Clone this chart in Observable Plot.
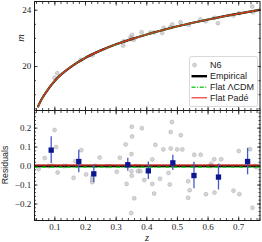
<!DOCTYPE html>
<html><head><meta charset="utf-8">
<script src="https://cdn.jsdelivr.net/npm/d3@7"></script>
<script src="https://cdn.jsdelivr.net/npm/@observablehq/plot@0.6"></script>
<style>
body{margin:0;background:#fff;}
#chart{position:relative;width:262px;height:242px;overflow:hidden;background:#fff;}
#chart svg{position:absolute;left:0;}
</style></head><body><div id="chart"></div>
<script>
// ---- data ----
const curveZ = [0.045,0.06,0.08,0.10,0.125,0.15,0.20,0.25,0.30,0.35,0.40,0.45,0.50,0.55,0.60,0.65,0.70,0.768];
const curveM = [17.17,17.80,18.45,19.00,19.52,19.95,20.63,21.15,21.58,21.95,22.28,22.58,22.86,23.11,23.34,23.56,23.76,24.03];

const n6Z = [0.099,0.108,0.185,0.222,0.323,0.325,0.347,0.352,0.358,0.350,0.383,0.412,0.423,0.450,0.455,0.477,0.483,0.510,0.537,0.575,0.592,0.621,0.632,0.682,0.701,0.744,0.747];
const n6M = [19.20,19.53,20.48,20.80,21.49,21.80,22.08,22.25,21.90,21.95,22.44,22.42,22.42,22.39,22.75,22.79,22.98,23.15,22.96,23.34,23.22,23.46,23.08,23.62,23.79,24.26,23.85];

const resZ = [0.047,0.067,0.099,0.104,0.109,0.161,0.167,0.186,0.202,0.222,0.222,0.222,0.246,0.302,0.312,0.331,0.334,0.351,0.352,0.350,0.350,0.351,0.359,0.349,0.371,0.379,0.384,0.392,0.418,0.418,0.424,0.428,0.443,0.454,0.471,0.475,0.478,0.482,0.478,0.499,0.511,0.516,0.535,0.535,0.540,0.555,0.576,0.593,0.610,0.620,0.621,0.643,0.683,0.700,0.702,0.737,0.745,0.758,
  0.080,0.091,0.129,0.138,0.175,0.232,0.268,0.278,0.336,0.363,0.374,0.554,0.603,0.611,0.635,0.752];
const resR = [-0.016,0.042,0.19,0.10,-0.034,-0.062,0.026,0.084,-0.044,-0.057,-0.073,-0.085,0.045,-0.03,0.044,0.114,-0.094,0.207,0.156,0.063,-0.027,-0.051,-0.17,-0.248,-0.027,-0.027,0.20,-0.074,0.035,-0.094,-0.145,0.112,-0.067,0.088,-0.036,-0.097,0.179,0.232,0.093,0.088,0.163,0.088,-0.08,-0.167,-0.127,0.06,0.06,-0.148,0.012,0.036,-0.14,0.036,-0.13,0.079,-0.148,0.089,-0.22,-0.006,
  0.0,0.002,-0.001,0.001,0.0,0.001,0.0,0.0,0.0,0.001,-0.001,0.0,0.0,0.001,0.0,0.0];

const binZ = [0.088,0.178,0.227,0.338,0.405,0.485,0.554,0.634,0.729];
const binR = [0.084,0.024,-0.041,0.007,-0.025,0.017,-0.050,-0.058,0.024];
const binErr = [0.070,0.059,0.047,0.034,0.046,0.040,0.070,0.068,0.070];

const resEmpirical = 0.0, resLCDM = -0.006, resPade = 0.005;

const xTicks = [0.1,0.2,0.3,0.4,0.5,0.6,0.7];
const xTickLabels = ["0.1","0.2","0.3","0.4","0.5","0.6","0.7"];
const mTicks = [20,24];
const mTickLabels = ["20","24"];
const rTicks = [-0.2,-0.1,0.0,0.1,0.2];
const rTickLabels = ["\u22120.2","\u22120.1","0.0","0.1","0.2"];
const legendLabels = ["N6","Empirical","Flat \u039BCDM","Flat Pad\u00E9"];

// ---- rendering ----
const W = 262;
const serif = "'Liberation Serif', 'DejaVu Serif', serif";
const sans = "'Liberation Sans', Arial, sans-serif";
const ink = "#1a1a1a";
const red = "#e8251f", green = "#2ecc2e", dash = "4,1.6,1,1.6";
const xMinor = d3.range(2, 39).map(i => +(i*0.02).toFixed(2)).filter(v => v > 0.034 && v < 0.769);
const mMinor = d3.range(17, 25);
const rMinor = d3.range(-14, 15).map(i => +(i*0.02).toFixed(2));
const xFmt = d => xTickLabels[xTicks.indexOf(d)];

function frameTicks(yMajor, yMinor, yFmt) {
  const t = {stroke: ink, strokeWidth: 0.8, fill: "none", label: null};
  return [
    Plot.axisX({anchor: "bottom", ticks: xTicks, tickSize: -3.5, ...t}),
    Plot.axisX({anchor: "bottom", ticks: xMinor, tickSize: -2, ...t}),
    Plot.axisX({anchor: "top", ticks: xTicks, tickSize: -3.5, ...t}),
    Plot.axisX({anchor: "top", ticks: xMinor, tickSize: -2, ...t}),
    Plot.axisY({anchor: "left", ticks: yMajor, tickSize: -3.5, ...t}),
    Plot.axisY({anchor: "left", ticks: yMinor, tickSize: -2, ...t}),
    Plot.axisY({anchor: "right", ticks: yMajor, tickSize: -3.5, ...t}),
    Plot.axisY({anchor: "right", ticks: yMinor, tickSize: -2, ...t}),
    Plot.axisY({anchor: "left", ticks: yMajor, tickSize: 0, tickPadding: 3.3, tickFormat: yFmt,
      fill: ink, stroke: "none", fontFamily: serif, fontSize: 9, label: null})
  ];
}

const dotStyle = {r: 2, fill: "#adadad", fillOpacity: 0.5, stroke: "#8e8e8e", strokeOpacity: 0.55, strokeWidth: 0.6};
const xScale = {domain: [0.0335, 0.7695], axis: null};
const curveData = curveZ.map((z,i)=>({z, m: curveM[i]}));

const topPlot = Plot.plot({
  width: W, height: 111,
  marginLeft: 34, marginRight: 2.5, marginTop: 1, marginBottom: 1,
  style: {background: "transparent", overflow: "visible"},
  x: xScale,
  y: {domain: [16.88, 24.62], axis: null},
  marks: [
    Plot.dot(n6Z.map((z,i)=>({z, m: n6M[i]})), {x: "z", y: "m", ...dotStyle}),
    Plot.line(curveData, {x: "z", y: "m", stroke: "black", strokeWidth: 2.2, curve: "monotone-x"}),
    Plot.line(curveData, {x: "z", y: "m", stroke: green, strokeWidth: 1.5, strokeDasharray: dash, curve: "monotone-x"}),
    Plot.line(curveData, {x: "z", y: "m", stroke: red, strokeWidth: 1.2, curve: "monotone-x"}),
    ...frameTicks(mTicks, mMinor, d => mTickLabels[mTicks.indexOf(d)]),
    Plot.frame({stroke: ink, strokeWidth: 1})
  ]
});
topPlot.style.top = "0px";

const bottomPlot = Plot.plot({
  width: W, height: 142,
  marginLeft: 34, marginRight: 2.5, marginTop: 10, marginBottom: 22,
  style: {background: "transparent", overflow: "visible"},
  x: xScale,
  y: {domain: [-0.287, 0.293], axis: null},
  marks: [
    Plot.dot(resZ.map((z,i)=>({z, r: resR[i]})), {x: "z", y: "r", ...dotStyle}),
    Plot.ruleY([resEmpirical], {stroke: "black", strokeWidth: 2.4}),
    Plot.ruleY([resLCDM], {stroke: green, strokeWidth: 1.4, strokeDasharray: dash}),
    Plot.ruleY([resPade], {stroke: red, strokeWidth: 1.1}),
    Plot.ruleX(binZ.map((z,i)=>({z, lo: binR[i]-binErr[i], hi: binR[i]+binErr[i]})), {x: "z", y1: "lo", y2: "hi", stroke: "#4657c9", strokeWidth: 1.3}),
    Plot.dot(binZ.map((z,i)=>({z, r: binR[i]})), {x: "z", y: "r", symbol: "square", r: 3, fill: "#0b1790", stroke: "none"}),
    ...frameTicks(rTicks, rMinor, d => rTickLabels[rTicks.indexOf(d)]),
    Plot.axisX({anchor: "bottom", ticks: xTicks, tickSize: 0, tickPadding: 3.5, tickFormat: xFmt,
      fill: ink, stroke: "none", fontFamily: serif, fontSize: 9, label: null}),
    Plot.frame({stroke: ink, strokeWidth: 1})
  ]
});
bottomPlot.style.top = "100px";

const chart = document.getElementById("chart");
chart.appendChild(topPlot);
chart.appendChild(bottomPlot);

// overlay: axis titles and legend
const ov = d3.select(chart).append("svg")
  .attr("width", W).attr("height", 242)
  .style("position", "absolute").style("top", "0px").style("left", "0px");

ov.append("text").attr("transform", "translate(24,38) rotate(-90)")
  .attr("text-anchor", "middle").attr("font-family", serif).attr("font-style", "italic")
  .attr("font-size", 10.5).attr("fill", ink).text("m");
ov.append("text").attr("transform", "translate(8,165) rotate(-90)")
  .attr("text-anchor", "middle").attr("font-family", sans)
  .attr("font-size", 8.8).attr("fill", ink).text("Residuals");
ov.append("text").attr("x", 147).attr("y", 240.5)
  .attr("text-anchor", "middle").attr("font-family", serif).attr("font-style", "italic")
  .attr("font-size", 10.5).attr("fill", ink).text("z");

const lg = ov.append("g");
lg.append("rect").attr("x", 189.5).attr("y", 56.5).attr("width", 68).attr("height", 50)
  .attr("rx", 2).attr("fill", "white").attr("fill-opacity", 0.85)
  .attr("stroke", "#cfcfcf").attr("stroke-width", 0.8);
const rowsY = [65, 76.2, 87.2, 97.8];
lg.append("circle").attr("cx", 194.5).attr("cy", rowsY[0]).attr("r", 2)
  .attr("fill", "#adadad").attr("fill-opacity", 0.5).attr("stroke", "#8e8e8e").attr("stroke-opacity", 0.55).attr("stroke-width", 0.6);
lg.append("line").attr("x1", 191.5).attr("x2", 207).attr("y1", rowsY[1]).attr("y2", rowsY[1])
  .attr("stroke", "black").attr("stroke-width", 2.4);
lg.append("line").attr("x1", 191.5).attr("x2", 207).attr("y1", rowsY[2]).attr("y2", rowsY[2])
  .attr("stroke", green).attr("stroke-width", 1.4).attr("stroke-dasharray", dash);
lg.append("line").attr("x1", 191.5).attr("x2", 207).attr("y1", rowsY[3]).attr("y2", rowsY[3])
  .attr("stroke", red).attr("stroke-width", 1.1);
legendLabels.forEach((s, i) => {
  lg.append("text").attr("x", 210).attr("y", rowsY[i]).attr("dy", "0.35em")
    .attr("font-family", sans).attr("font-size", 9).attr("fill", ink).text(s);
});
</script>
</body></html>
